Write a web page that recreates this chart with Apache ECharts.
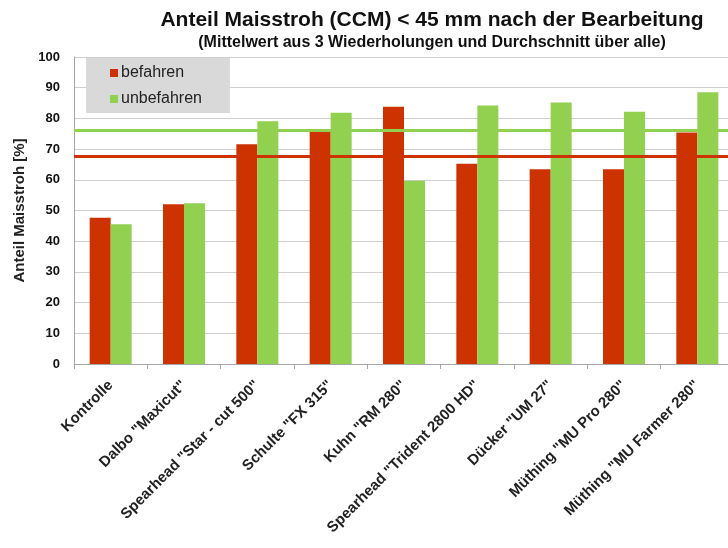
<!DOCTYPE html>
<html>
<head>
<meta charset="utf-8">
<script src="https://cdn.jsdelivr.net/npm/echarts@6/dist/echarts.min.js"></script>
<style>
html, body { margin: 0; padding: 0; background: #fff; overflow: hidden; }
/* chart is a few px wider than the window: the original plot is cut off on the right */
#chart { width: 734px; height: 548px; }
</style>
</head>
<body>
<div id="chart"></div>
<script>
var categories = ['Kontrolle', 'Dalbo "Maxicut"', 'Spearhead "Star - cut 500"', 'Schulte "FX 315"',
    'Kuhn "RM 280"', 'Spearhead "Trident 2800 HD"', 'Dücker "UM 27"', 'Müthing "MU Pro 280"', 'Müthing "MU Farmer 280"'];
var befahren = [47.6, 52.0, 71.6, 75.8, 83.8, 65.2, 63.4, 63.4, 75.4];
var unbefahren = [45.5, 52.4, 79.1, 81.8, 59.7, 84.2, 85.2, 82.2, 88.5];
var avgBefahren = 67.8;
var avgUnbefahren = 76.1;
var yTicks = [0, 10, 20, 30, 40, 50, 60, 70, 80, 90, 100];

var chart = echarts.init(document.getElementById('chart'));
var fontFam = '"Liberation Sans", Arial, sans-serif';

var option = {
    animation: false,
    textStyle: { fontFamily: fontFam },
    title: {
        text: 'Anteil Maisstroh (CCM) < 45 mm nach der Bearbeitung',
        subtext: '(Mittelwert aus 3 Wiederholungen und Durchschnitt über alle)',
        left: 427,
        textAlign: 'center',
        top: 5,
        itemGap: 4,
        textStyle: { fontSize: 21, fontWeight: 'bold', color: '#111', fontFamily: fontFam },
        subtextStyle: { fontSize: 16, fontWeight: 'bold', color: '#111', fontFamily: fontFam }
    },
    legend: {
        data: ['befahren', 'unbefahren'],
        orient: 'vertical',
        left: 86,
        top: 58,
        backgroundColor: '#d9d9d9',
        padding: [7, 28, 6, 24],
        itemGap: 10,
        itemWidth: 8,
        itemHeight: 8,
        icon: 'rect',
        textStyle: { fontSize: 16, color: '#222', padding: [0, 0, 0, -2] }
    },
    grid: { left: 74, right: 0, top: 57, bottom: 184, containLabel: false },
    xAxis: {
        type: 'category',
        data: categories,
        axisLine: { lineStyle: { color: '#a6a6a6' } },
        axisTick: { show: true, alignWithLabel: false, length: 5, lineStyle: { color: '#a6a6a6' } },
        axisLabel: {
            rotate: 45,
            interval: 0,
            fontSize: 15,
            fontWeight: 'bold',
            color: '#222',
            margin: 19
        }
    },
    yAxis: {
        type: 'value',
        min: 0,
        max: 100,
        interval: 10,
        name: 'Anteil Maisstroh [%]',
        nameLocation: 'middle',
        nameGap: 46,
        nameTextStyle: { fontSize: 15, fontWeight: 'bold', color: '#222' },
        axisLine: { show: true, lineStyle: { color: '#a6a6a6' } },
        axisTick: { show: false },
        splitLine: { lineStyle: { color: '#cfcfcf' } },
        axisLabel: {
            fontSize: 13,
            fontWeight: 'bold',
            color: '#111',
            margin: 14,
            formatter: function (v) { return yTicks.indexOf(v) >= 0 ? String(v) : ''; }
        }
    },
    series: [
        {
            name: 'befahren',
            type: 'bar',
            data: befahren,
            barWidth: 21,
            barGap: '0%',
            itemStyle: { color: '#cc3300' },
            markLine: {
                silent: true,
                symbol: 'none',
                label: { show: false },
                lineStyle: { color: '#cc3300', width: 3, type: 'solid' },
                data: [{ yAxis: avgBefahren }]
            }
        },
        {
            name: 'unbefahren',
            type: 'bar',
            data: unbefahren,
            barWidth: 21,
            itemStyle: { color: '#92d050' },
            markLine: {
                silent: true,
                symbol: 'none',
                label: { show: false },
                lineStyle: { color: '#92d050', width: 3, type: 'solid' },
                data: [{ yAxis: avgUnbefahren }]
            }
        }
    ]
};

chart.setOption(option);
</script>
</body>
</html>
